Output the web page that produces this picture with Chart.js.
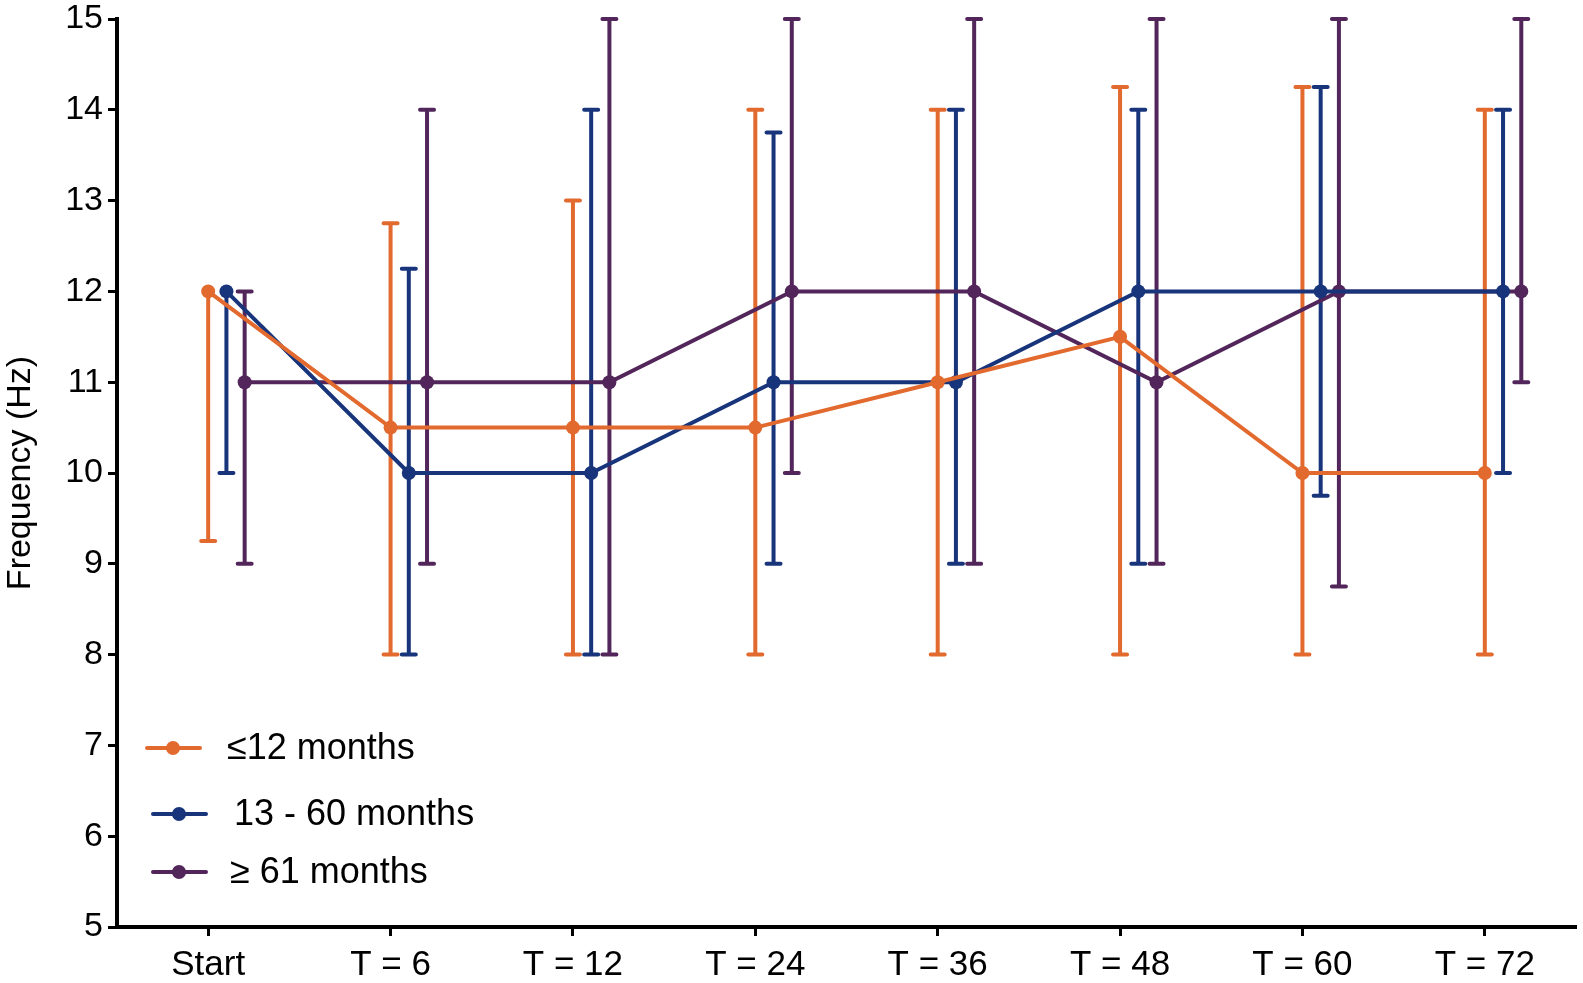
<!DOCTYPE html>
<html lang="en">
<head>
<meta charset="UTF-8">
<title>Frequency over time</title>
<script src="https://cdn.jsdelivr.net/npm/chart.js@4.4.0/dist/chart.umd.min.js"></script>
<style>
  body { margin: 0; background: #fff; }
  #wrap { width: 1583px; height: 983px; }
</style>
</head>
<body>
<div id="wrap"><canvas id="chart"></canvas></div>
<script>
// categories on the x axis
const categories = ['Start', 'T = 6', 'T = 12', 'T = 24', 'T = 36', 'T = 48', 'T = 60', 'T = 72'];
const seriesNames = ['\u226412 months', '13 - 60 months', '\u2265 61 months'];

// medians and error bar ends
const young = [12, 10.5, 10.5, 10.5, 11, 11.5, 10, 10];
const youngLow = [9.25, 8, 8, 8, 8, 8, 8, 8];
const youngHigh = [12, 12.75, 13, 14, 14, 14.25, 14.25, 14];

const middle = [12, 10, 10, 11, 11, 12, 12, 12];
const middleLow = [10, 8, 8, 9, 9, 9, 9.75, 10];
const middleHigh = [12, 12.25, 14, 13.75, 14, 14, 14.25, 14];

const old = [11, 11, 11, 12, 12, 11, 12, 12];
const oldLow = [9, 9, 8, 10, 9, 9, 8.75, 11];
const oldHigh = [12, 14, 15, 15, 15, 15, 15, 15];

const yTicks = [5, 6, 7, 8, 9, 10, 11, 12, 13, 14, 15];

const colors = ['rgb(226,106,46)', 'rgb(24,52,122)', 'rgb(82,38,90)'];
const shifts = [0, 0.1, 0.2];   // groups are drawn side by side
const FONT = '"Liberation Sans", Arial, Helvetica, sans-serif';

function makeSet(i, vals, lows, highs) {
  return {
    label: seriesNames[i],
    data: vals.map((v, k) => ({ x: k + shifts[i], y: v, lo: lows[k], hi: highs[k] })),
    borderColor: colors[i],
    backgroundColor: colors[i],
    borderWidth: 4,
    pointRadius: 7,
    pointHoverRadius: 7,
    pointBorderWidth: 0,
    tension: 0
  };
}

const errorBars = {
  id: 'errorBars',
  beforeDatasetsDraw(chart) {
    const ctx = chart.ctx;
    const xs = chart.scales.x, ys = chart.scales.y;
    ctx.save();
    ctx.lineWidth = 4;
    ctx.lineCap = 'round';
    chart.data.datasets.forEach(ds => {
      ctx.strokeStyle = ds.borderColor;
      ds.data.forEach(p => {
        const x = xs.getPixelForValue(p.x);
        const yl = ys.getPixelForValue(p.lo);
        const yh = ys.getPixelForValue(p.hi);
        ctx.beginPath();
        ctx.moveTo(x, yl);
        ctx.lineTo(x, yh);
        if (p.lo < p.y) { ctx.moveTo(x - 7, yl); ctx.lineTo(x + 7, yl); }
        if (p.hi > p.y) { ctx.moveTo(x - 7, yh); ctx.lineTo(x + 7, yh); }
        ctx.stroke();
      });
    });
    ctx.restore();
  }
};

// legend sits inside the plot, bottom left
const insideLegend = {
  id: 'insideLegend',
  afterDraw(chart) {
    const ctx = chart.ctx;
    const a = chart.chartArea;
    const rows = [
      { dy: -179, x0: 30, tx: 110 },
      { dy: -113, x0: 36, tx: 117 },
      { dy: -55, x0: 36, tx: 113 }
    ];
    ctx.save();
    ctx.font = '36px ' + FONT;
    ctx.textBaseline = 'middle';
    chart.data.datasets.forEach((ds, i) => {
      const r = rows[i];
      const y = a.bottom + r.dy;
      const x = a.left + r.x0;
      ctx.strokeStyle = ds.borderColor;
      ctx.fillStyle = ds.borderColor;
      ctx.lineWidth = 4;
      ctx.lineCap = 'round';
      ctx.beginPath();
      ctx.moveTo(x, y);
      ctx.lineTo(x + 53, y);
      ctx.stroke();
      ctx.beginPath();
      ctx.arc(x + 26, y, 7, 0, Math.PI * 2);
      ctx.fill();
      ctx.fillStyle = '#000';
      ctx.fillText(ds.label, a.left + r.tx, y + 1);
    });
    ctx.restore();
  }
};

const ctx = document.getElementById('chart').getContext('2d');
new Chart(ctx, {
  type: 'line',
  data: {
    datasets: [
      makeSet(0, young, youngLow, youngHigh),
      makeSet(1, middle, middleLow, middleHigh),
      makeSet(2, old, oldLow, oldHigh)
    ]
  },
  options: {
    responsive: true,
    maintainAspectRatio: false,
    animation: false,
    events: [],
    layout: { padding: { top: 0, right: 6, left: 0, bottom: 0 } },
    plugins: { legend: { display: false }, tooltip: { enabled: false } },
    scales: {
      x: {
        type: 'linear',
        min: -0.5,
        max: 7.5,
        afterBuildTicks: s => { s.ticks = categories.map((c, i) => ({ value: i })); },
        afterFit: s => { s.height = 56; },
        ticks: {
          color: '#000',
          font: { family: FONT, size: 35 },
          padding: 8,
          maxRotation: 0,
          autoSkip: false,
          callback: v => categories[v]
        },
        grid: { drawOnChartArea: false, drawTicks: true, tickLength: 9, tickWidth: 3, tickColor: '#000' },
        border: { color: '#000', width: 4 }
      },
      y: {
        min: 5,
        max: 15,
        afterBuildTicks: s => { s.ticks = yTicks.map(v => ({ value: v })); },
        afterFit: s => { s.width = 117; s.paddingTop = 19; },
        ticks: {
          color: '#000',
          font: { family: FONT, size: 34, lineHeight: 1 },
          padding: 5
        },
        title: {
          display: true,
          text: 'Frequency (Hz)',
          color: '#000',
          font: { family: FONT, size: 34 },
          padding: { top: 0, bottom: 2 }
        },
        grid: { drawOnChartArea: false, drawTicks: true, tickLength: 9, tickWidth: 3, tickColor: '#000' },
        border: { color: '#000', width: 4 }
      }
    }
  },
  plugins: [errorBars, insideLegend]
});
</script>
</body>
</html>
